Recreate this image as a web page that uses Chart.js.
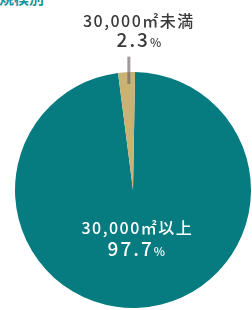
<!DOCTYPE html>
<html>
<head>
<meta charset="utf-8">
<script src="https://cdn.jsdelivr.net/npm/chart.js@4"></script>
<style>
  html, body { margin: 0; padding: 0; background: #fff; }
  body { width: 252px; height: 310px; overflow: hidden; position: relative; }
  #title { position: absolute; left: -31px; top: -13px; font: bold 15px "Noto Sans CJK JP", sans-serif; color: #1a95a0; white-space: nowrap; }
  #wrap { position: absolute; left: 0; top: 0; width: 270px; height: 310px; }
</style>
</head>
<body>
<div id="title">建物規模別</div>
<div id="wrap"><canvas id="myChart" width="270" height="310"></canvas></div>
<script>
// data
var labels = ["30,000㎡以上", "30,000㎡未満"];
var values = [97.7, 2.3];
var colors = ["#067b80", "#c9b273"];

// labels for the slices
var pieLabels = {
  id: 'pieLabels',
  afterDatasetsDraw: function(chart) {
    var ctx = chart.ctx;
    var arcs = chart.getDatasetMeta(0).data;
    var font = '"Noto Sans CJK JP", sans-serif';
    function pct(txt, x, y, color) {
      ctx.letterSpacing = '2px';
      ctx.font = '500 19px ' + font;
      var w1 = ctx.measureText(txt).width;
      ctx.font = '500 12px ' + font;
      var w2 = ctx.measureText('%').width;
      var sx = x - (w1 + w2) / 2;
      ctx.fillStyle = color;
      ctx.textAlign = 'left';
      ctx.textBaseline = 'alphabetic';
      ctx.font = '500 19px ' + font;
      ctx.fillText(txt, sx, y);
      ctx.font = '500 12px ' + font;
      ctx.fillText('%', sx + w1, y);
    }
    ctx.save();
    // big slice, inside
    var a = arcs[0];
    var mid = (a.startAngle + a.endAngle) / 2;
    var r = a.outerRadius * 0.36;
    var x = a.x + Math.cos(mid) * r;
    var y = a.y + Math.sin(mid) * r;
    ctx.fillStyle = '#fff';
    ctx.textAlign = 'center';
    ctx.textBaseline = 'middle';
    ctx.letterSpacing = '1.5px';
    ctx.font = '500 16px ' + font;
    ctx.fillText(labels[0], x + 2, y - 4);
    pct(values[0].toFixed(1), x + 2, y + 24, '#fff');

    // small slice, leader line and text above
    var b = arcs[1];
    var midB = (b.startAngle + b.endAngle) / 2;
    var lx = b.x + Math.cos(midB) * b.outerRadius * 0.95 + 2;
    var y1 = b.y + Math.sin(midB) * b.outerRadius * 0.9;
    var y2 = b.y - b.outerRadius * 1.13;
    ctx.strokeStyle = 'rgba(110,100,100,0.65)';
    ctx.lineWidth = 3;
    ctx.beginPath();
    ctx.moveTo(lx, y1);
    ctx.lineTo(lx, y2);
    ctx.stroke();
    ctx.fillStyle = '#3a3a3a';
    ctx.textAlign = 'center';
    ctx.textBaseline = 'middle';
    ctx.letterSpacing = '1.5px';
    ctx.font = '500 16px ' + font;
    ctx.fillText(labels[1], lx + 10, 21);
    pct(values[1].toFixed(1), lx + 11, 47, '#3a3a3a');
    ctx.restore();
  }
};

var ctx = document.getElementById('myChart').getContext('2d');
var myChart = new Chart(ctx, {
  type: 'pie',
  data: {
    labels: labels,
    datasets: [{
      data: values,
      backgroundColor: colors,
      borderWidth: 0
    }]
  },
  options: {
    responsive: false,
    animation: false,
    rotation: 1,
    layout: { padding: { left: 15, right: 19, top: 72, bottom: 2 } },
    plugins: {
      legend: { display: false },
      tooltip: { enabled: false }
    }
  },
  plugins: [pieLabels]
});
</script>
</body>
</html>
